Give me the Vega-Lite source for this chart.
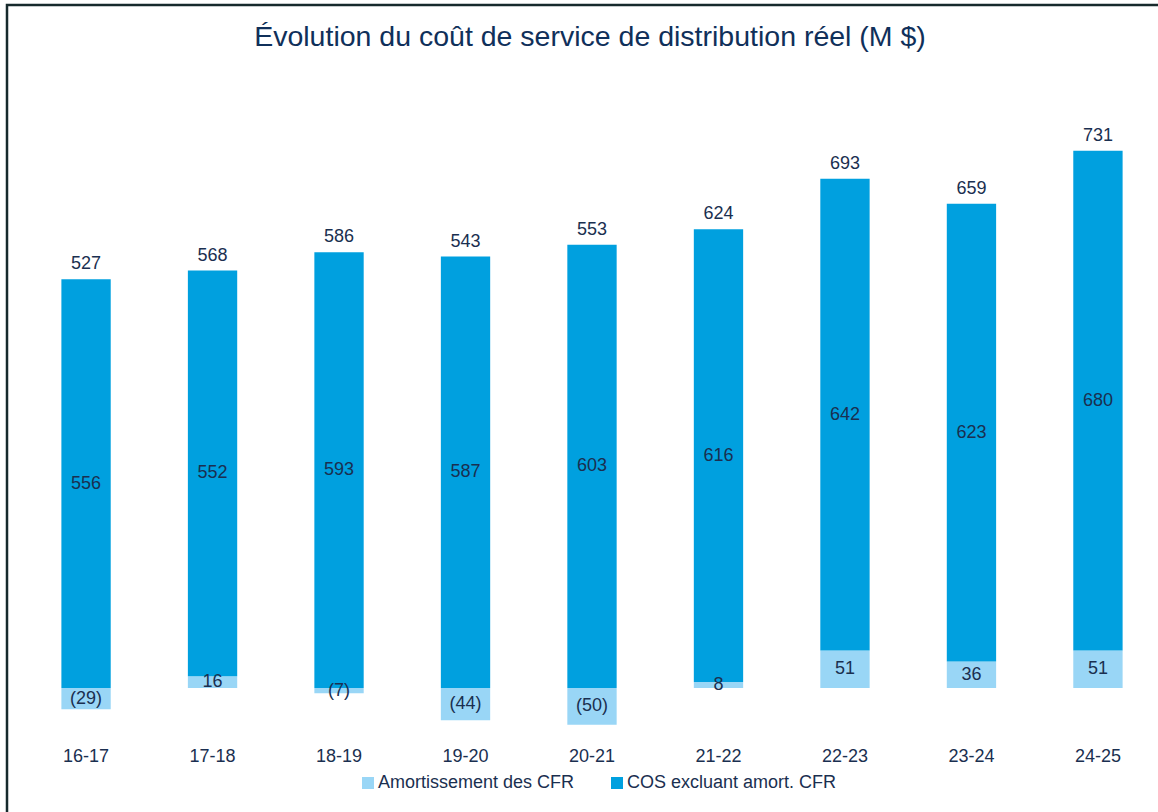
{
  "$schema": "https://vega.github.io/schema/vega-lite/v6.json",
  "width": 1170,
  "height": 830,
  "autosize": {"type": "none"},
  "padding": {"left": 7, "top": 5, "right": 0, "bottom": 0},
  "background": "white",
  "config": {
    "view": {"stroke": "#172a2c", "strokeWidth": 2.5, "fill": "white"},
    "font": "Liberation Sans",
    "text": {"font": "Liberation Sans"}
  },
  "title": {
    "text": "Évolution du coût de service de distribution réel (M $)",
    "frame": "group",
    "anchor": "middle",
    "offset": -46,
    "dx": -2,
    "font": "Liberation Sans",
    "fontSize": 28.5,
    "fontWeight": "normal",
    "color": "#10305a"
  },
  "data": {
    "values": [
      {"year": "16-17", "series": "Amortissement des CFR", "value": -29, "total": 527},
      {"year": "16-17", "series": "COS excluant amort. CFR", "value": 556, "total": 527},
      {"year": "17-18", "series": "Amortissement des CFR", "value": 16, "total": 568},
      {"year": "17-18", "series": "COS excluant amort. CFR", "value": 552, "total": 568},
      {"year": "18-19", "series": "Amortissement des CFR", "value": -7, "total": 586},
      {"year": "18-19", "series": "COS excluant amort. CFR", "value": 593, "total": 586},
      {"year": "19-20", "series": "Amortissement des CFR", "value": -44, "total": 543},
      {"year": "19-20", "series": "COS excluant amort. CFR", "value": 587, "total": 543},
      {"year": "20-21", "series": "Amortissement des CFR", "value": -50, "total": 553},
      {"year": "20-21", "series": "COS excluant amort. CFR", "value": 603, "total": 553},
      {"year": "21-22", "series": "Amortissement des CFR", "value": 8, "total": 624},
      {"year": "21-22", "series": "COS excluant amort. CFR", "value": 616, "total": 624},
      {"year": "22-23", "series": "Amortissement des CFR", "value": 51, "total": 693},
      {"year": "22-23", "series": "COS excluant amort. CFR", "value": 642, "total": 693},
      {"year": "23-24", "series": "Amortissement des CFR", "value": 36, "total": 659},
      {"year": "23-24", "series": "COS excluant amort. CFR", "value": 623, "total": 659},
      {"year": "24-25", "series": "Amortissement des CFR", "value": 51, "total": 731},
      {"year": "24-25", "series": "COS excluant amort. CFR", "value": 680, "total": 731}
    ]
  },
  "transform": [
    {"stack": "value", "groupby": ["year"], "sort": [{"field": "series", "order": "ascending"}], "offset": "zero", "as": ["v0", "v1"]}
  ],
  "layer": [
    {
      "mark": {"type": "bar"},
      "encoding": {
        "x": {
          "field": "year", "type": "nominal", "sort": null,
          "scale": {"paddingInner": 0.61, "paddingOuter": 0.43},
          "axis": {
            "title": null, "orient": "bottom", "offset": -88, "labelAngle": 0,
            "ticks": false, "domain": false, "grid": false, "labelPadding": 0,
            "labelFont": "Liberation Sans", "labelFontSize": 18, "labelColor": "#1a2f50"
          }
        },
        "y": {
          "field": "v1", "type": "quantitative",
          "scale": {"domain": [-200, 929.25], "nice": false, "zero": false},
          "axis": null
        },
        "y2": {"field": "v0"},
        "color": {
          "field": "series", "type": "nominal",
          "scale": {"domain": ["Amortissement des CFR", "COS excluant amort. CFR"], "range": ["#99d6f6", "#00a0df"]},
          "legend": {
            "title": null, "orient": "none", "direction": "horizontal", "columns": 2,
            "legendX": 352, "legendY": 769, "padding": 0,
            "symbolType": "square", "symbolSize": 144, "symbolStrokeWidth": 0,
            "labelFont": "Liberation Sans", "labelFontSize": 18, "labelColor": "#1a2f50",
            "labelLimit": 0, "labelOffset": 1, "columnPadding": 33
          }
        }
      }
    },
    {
      "transform": [{"fold": ["v0", "v1"], "as": ["k", "pos"]}],
      "mark": {"type": "text", "fontSize": 18, "font": "Liberation Sans", "color": "#1a2f50", "baseline": "middle"},
      "encoding": {
        "x": {"field": "year", "type": "nominal", "sort": null},
        "y": {"aggregate": "mean", "field": "pos", "type": "quantitative"},
        "detail": {"field": "series"},
        "text": {"field": "value", "type": "quantitative", "format": "(d"}
      }
    },
    {
      "transform": [{"filter": "datum.series == 'COS excluant amort. CFR'"}],
      "mark": {"type": "text", "fontSize": 18, "font": "Liberation Sans", "color": "#1a2f50", "baseline": "alphabetic", "dy": -10},
      "encoding": {
        "x": {"field": "year", "type": "nominal", "sort": null},
        "y": {"field": "v1", "type": "quantitative"},
        "text": {"field": "total", "type": "quantitative", "format": "d"}
      }
    }
  ]
}
